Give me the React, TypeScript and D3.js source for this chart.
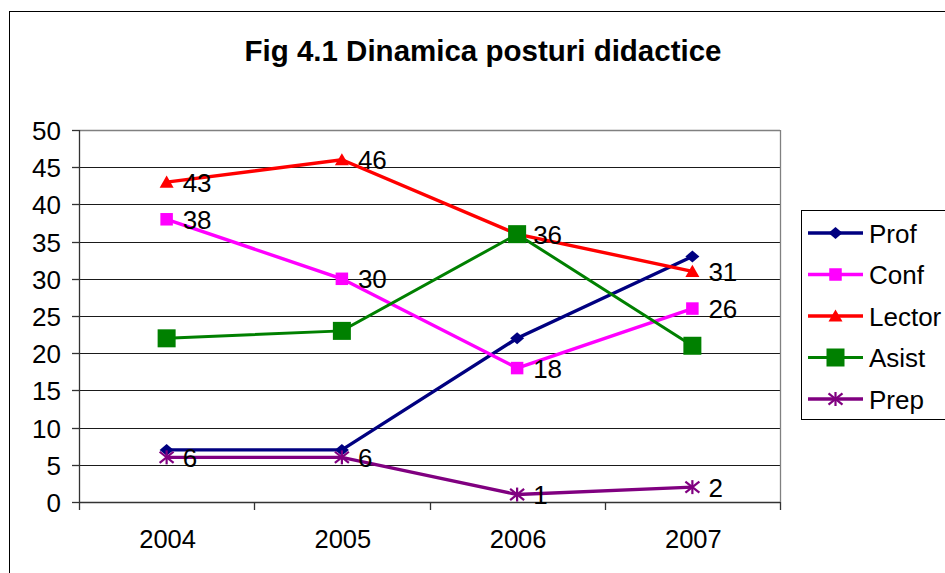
import React, { useEffect, useRef } from "react";
import * as d3 from "d3";

const categories = ["2004", "2005", "2006", "2007"];
const seriesNames = ["Prof", "Conf", "Lector", "Asist", "Prep"];
const profValues = [7, 7, 22, 33];
const confValues = [38, 30, 18, 26];
const lectorValues = [43, 46, 36, 31];
const asistValues = [22, 23, 36, 21];
const prepValues = [6, 6, 1, 2];
const yTicks = [0, 5, 10, 15, 20, 25, 30, 35, 40, 45, 50];
const title = "Fig 4.1 Dinamica posturi didactice";

const W = 945;
const H = 573;
const FONT = "'Liberation Sans', Arial, sans-serif";

type Series = {
  name: string;
  values: number[];
  color: string;
  marker: string;
  size: number;
  labels: boolean;
  width: number;
};

const series: Series[] = [
  { name: seriesNames[0], values: profValues, color: "#000080", marker: "diamond", size: 14, labels: false, width: 3.4 },
  { name: seriesNames[1], values: confValues, color: "#FF00FF", marker: "square", size: 12.5, labels: true, width: 3.4 },
  { name: seriesNames[2], values: lectorValues, color: "#FF0000", marker: "triangle", size: 14, labels: true, width: 3.4 },
  { name: seriesNames[3], values: asistValues, color: "#008000", marker: "square", size: 18, labels: false, width: 3 },
  { name: seriesNames[4], values: prepValues, color: "#800080", marker: "star", size: 14, labels: true, width: 3.4 },
];

function drawMarker(g: any, kind: string, x: number, y: number, size: number, color: string) {
  const h = size / 2;
  if (kind === "diamond") {
    g.append("path")
      .attr("d", `M${x},${y - h * 0.85} L${x + h},${y} L${x},${y + h * 0.85} L${x - h},${y} Z`)
      .attr("fill", color);
  } else if (kind === "square") {
    g.append("rect").attr("x", x - h).attr("y", y - h).attr("width", size).attr("height", size).attr("fill", color);
  } else if (kind === "triangle") {
    const th = size * 0.8;
    g.append("path")
      .attr("d", `M${x},${y - th / 2 - 1} L${x + h},${y + th / 2} L${x - h},${y + th / 2} Z`)
      .attr("fill", color);
  } else if (kind === "star") {
    const r = h;
    const lines = [
      [x - r, y - r * 0.8, x + r, y + r * 0.8],
      [x - r, y + r * 0.8, x + r, y - r * 0.8],
      [x, y - r, x, y + r],
    ];
    lines.forEach(([x1, y1, x2, y2]) =>
      g.append("line").attr("x1", x1).attr("y1", y1).attr("x2", x2).attr("y2", y2)
        .attr("stroke", color).attr("stroke-width", 2.2)
    );
  }
}

export default function App() {
  const ref = useRef<SVGSVGElement | null>(null);

  useEffect(() => {
    document.body.style.margin = "0";
    const svg = d3.select(ref.current);
    svg.selectAll("*").remove();

    svg.append("rect").attr("x", 0).attr("y", 0).attr("width", W).attr("height", H).attr("fill", "#fff");
    // outer chart border
    svg.append("rect").attr("x", 9.5).attr("y", 11.5).attr("width", W + 10).attr("height", H + 10)
      .attr("fill", "none").attr("stroke", "#000").attr("stroke-width", 1);

    svg.append("text").attr("x", 483).attr("y", 61).attr("text-anchor", "middle")
      .attr("font-family", FONT).attr("font-weight", "bold").attr("font-size", 29.5).text(title);

    const left = 79, right = 780, top = 130, bottom = 502;
    const x = d3.scaleBand().domain(categories).range([left, right]);
    const y = d3.scaleLinear().domain([0, 50]).range([bottom, top]);
    const cx = (c: string) => (x(c) as number) + x.bandwidth() / 2;

    // gridlines
    yTicks.forEach((t) => {
      if (t === 0 || t === 50) return;
      svg.append("line").attr("x1", left).attr("x2", right)
        .attr("y1", Math.round(y(t)) + 0.5).attr("y2", Math.round(y(t)) + 0.5)
        .attr("stroke", "#1a1a1a").attr("stroke-width", 1);
    });
    // plot border top/right
    svg.append("line").attr("x1", left).attr("x2", right).attr("y1", top + 0.5).attr("y2", top + 0.5)
      .attr("stroke", "#808080").attr("stroke-width", 1.3);
    svg.append("line").attr("x1", right + 0.5).attr("x2", right + 0.5).attr("y1", top).attr("y2", bottom)
      .attr("stroke", "#808080").attr("stroke-width", 1.3);

    // y axis
    svg.append("line").attr("x1", left + 0.5).attr("x2", left + 0.5).attr("y1", top).attr("y2", bottom)
      .attr("stroke", "#333").attr("stroke-width", 1.3);
    yTicks.forEach((t) => {
      const yy = Math.round(y(t)) + 0.5;
      svg.append("line").attr("x1", left - 7).attr("x2", left).attr("y1", yy).attr("y2", yy)
        .attr("stroke", "#333").attr("stroke-width", 1.3);
      svg.append("text").attr("x", 61).attr("y", yy + 9).attr("text-anchor", "end")
        .attr("font-family", FONT).attr("font-size", 26).attr("fill", "#000").text(String(t));
    });

    // x axis
    svg.append("line").attr("x1", left).attr("x2", right).attr("y1", bottom + 0.5).attr("y2", bottom + 0.5)
      .attr("stroke", "#333").attr("stroke-width", 1.3);
    const bounds = categories.map((c) => x(c) as number).concat([right]);
    bounds.forEach((b) => {
      svg.append("line").attr("x1", Math.round(b) + 0.5).attr("x2", Math.round(b) + 0.5)
        .attr("y1", bottom).attr("y2", bottom + 8).attr("stroke", "#333").attr("stroke-width", 1.3);
    });
    categories.forEach((c) => {
      svg.append("text").attr("x", cx(c) + 1).attr("y", 548).attr("text-anchor", "middle")
        .attr("font-family", FONT).attr("font-size", 25.5).attr("fill", "#000").text(c);
    });

    // lines
    const line = d3.line<number>().x((_, i) => cx(categories[i])).y((d) => y(d));
    series.forEach((s) => {
      svg.append("path").attr("d", line(s.values) as string).attr("fill", "none")
        .attr("stroke", s.color).attr("stroke-width", s.width).attr("stroke-linejoin", "miter");
    });
    // markers
    series.forEach((s) => {
      const g = svg.append("g");
      s.values.forEach((v, i) => drawMarker(g, s.marker, cx(categories[i]), y(v), s.size, s.color));
    });
    // labels
    series.forEach((s) => {
      if (!s.labels) return;
      s.values.forEach((v, i) => {
        svg.append("text").attr("x", cx(categories[i]) + 16).attr("y", y(v) + 9.5)
          .attr("font-family", FONT).attr("font-size", 26).attr("fill", "#000").text(String(v));
      });
    });

    // legend
    svg.append("rect").attr("x", 801.5).attr("y", 210.5).attr("width", 160).attr("height", 209)
      .attr("fill", "#fff").attr("stroke", "#000").attr("stroke-width", 1);
    series.forEach((s, i) => {
      const ly = 233 + i * 41.5;
      svg.append("line").attr("x1", 808).attr("x2", 863).attr("y1", ly).attr("y2", ly)
        .attr("stroke", s.color).attr("stroke-width", s.width);
      drawMarker(svg, s.marker, 835.5, ly, s.size, s.color);
      svg.append("text").attr("x", 869).attr("y", ly + 9.5)
        .attr("font-family", FONT).attr("font-size", 26).attr("fill", "#000").text(s.name);
    });
  }, []);

  return (
    <svg ref={ref} width={W} height={H} style={{ display: "block", position: "absolute", left: 0, top: 0 }} />
  );
}
